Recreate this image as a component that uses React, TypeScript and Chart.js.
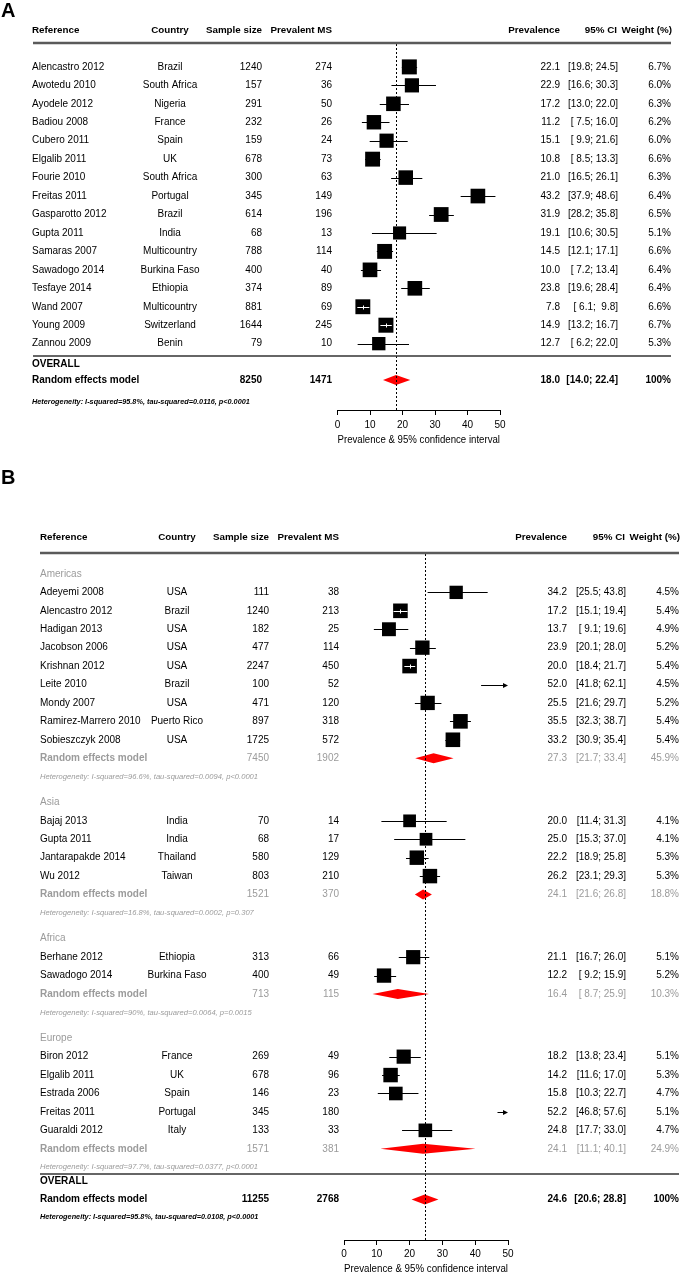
import React, { useEffect, useRef } from 'react';
import { Chart, registerables } from 'chart.js';

Chart.register(...registerables);

const FONT = '"Liberation Sans", Arial, Helvetica, sans-serif';
const GRAY = '#9b9b9b';
const RED = '#ff0000';

const X_MIN = 0;
const X_MAX = 50;
const X_STEP = 10;
const AXIS_TITLE = 'Prevalence & 95% confidence interval';
const HEADERS = ['Reference', 'Country', 'Sample size', 'Prevalent MS', 'Prevalence', '95% CI', 'Weight (%)'];
const RE_LABEL = 'Random effects model';
const OVERALL_LABEL = 'OVERALL';

// ---------- Panel A ----------
const A_REFERENCES = ['Alencastro 2012', 'Awotedu 2010', 'Ayodele 2012', 'Badiou 2008', 'Cubero 2011', 'Elgalib 2011', 'Fourie 2010', 'Freitas 2011', 'Gasparotto 2012', 'Gupta 2011', 'Samaras 2007', 'Sawadogo 2014', 'Tesfaye 2014', 'Wand 2007', 'Young 2009', 'Zannou 2009'];
const A_COUNTRIES = ['Brazil', 'South Africa', 'Nigeria', 'France', 'Spain', 'UK', 'South Africa', 'Portugal', 'Brazil', 'India', 'Multicountry', 'Burkina Faso', 'Ethiopia', 'Multicountry', 'Switzerland', 'Benin'];
const A_SAMPLE = [1240, 157, 291, 232, 159, 678, 300, 345, 614, 68, 788, 400, 374, 881, 1644, 79];
const A_PREVALENT = [274, 36, 50, 26, 24, 73, 63, 149, 196, 13, 114, 40, 89, 69, 245, 10];
const A_PREV = [22.1, 22.9, 17.2, 11.2, 15.1, 10.8, 21.0, 43.2, 31.9, 19.1, 14.5, 10.0, 23.8, 7.8, 14.9, 12.7];
const A_LOWER = [19.8, 16.6, 13.0, 7.5, 9.9, 8.5, 16.5, 37.9, 28.2, 10.6, 12.1, 7.2, 19.6, 6.1, 13.2, 6.2];
const A_UPPER = [24.5, 30.3, 22.0, 16.0, 21.6, 13.3, 26.1, 48.6, 35.8, 30.5, 17.1, 13.4, 28.4, 9.8, 16.7, 22.0];
const A_WEIGHT = [6.7, 6.0, 6.3, 6.2, 6.0, 6.6, 6.3, 6.4, 6.5, 5.1, 6.6, 6.4, 6.4, 6.6, 6.7, 5.3];
const A_POOLED_COUNTS = [8250, 1471];
const A_POOLED_EST = [18.0, 14.0, 22.4];
const A_POOLED_WEIGHT = 100;
const A_HETEROGENEITY = 'Heterogeneity: I-squared=95.8%, tau-squared=0.0116, p<0.0001';

// ---------- Panel B ----------
const B_GROUPS = ['Americas', 'Asia', 'Africa', 'Europe'];
const B_GROUP_OF = [0, 0, 0, 0, 0, 0, 0, 0, 0, 1, 1, 1, 1, 2, 2, 3, 3, 3, 3, 3];
const B_REFERENCES = ['Adeyemi 2008', 'Alencastro 2012', 'Hadigan 2013', 'Jacobson 2006', 'Krishnan 2012', 'Leite 2010', 'Mondy 2007', 'Ramirez-Marrero 2010', 'Sobieszczyk 2008', 'Bajaj 2013', 'Gupta 2011', 'Jantarapakde 2014', 'Wu 2012', 'Berhane 2012', 'Sawadogo 2014', 'Biron 2012', 'Elgalib 2011', 'Estrada 2006', 'Freitas 2011', 'Guaraldi 2012'];
const B_COUNTRIES = ['USA', 'Brazil', 'USA', 'USA', 'USA', 'Brazil', 'USA', 'Puerto Rico', 'USA', 'India', 'India', 'Thailand', 'Taiwan', 'Ethiopia', 'Burkina Faso', 'France', 'UK', 'Spain', 'Portugal', 'Italy'];
const B_SAMPLE = [111, 1240, 182, 477, 2247, 100, 471, 897, 1725, 70, 68, 580, 803, 313, 400, 269, 678, 146, 345, 133];
const B_PREVALENT = [38, 213, 25, 114, 450, 52, 120, 318, 572, 14, 17, 129, 210, 66, 49, 49, 96, 23, 180, 33];
const B_PREV = [34.2, 17.2, 13.7, 23.9, 20.0, 52.0, 25.5, 35.5, 33.2, 20.0, 25.0, 22.2, 26.2, 21.1, 12.2, 18.2, 14.2, 15.8, 52.2, 24.8];
const B_LOWER = [25.5, 15.1, 9.1, 20.1, 18.4, 41.8, 21.6, 32.3, 30.9, 11.4, 15.3, 18.9, 23.1, 16.7, 9.2, 13.8, 11.6, 10.3, 46.8, 17.7];
const B_UPPER = [43.8, 19.4, 19.6, 28.0, 21.7, 62.1, 29.7, 38.7, 35.4, 31.3, 37.0, 25.8, 29.3, 26.0, 15.9, 23.4, 17.0, 22.7, 57.6, 33.0];
const B_WEIGHT = [4.5, 5.4, 4.9, 5.2, 5.4, 4.5, 5.2, 5.4, 5.4, 4.1, 4.1, 5.3, 5.3, 5.1, 5.2, 5.1, 5.3, 4.7, 5.1, 4.7];
const B_SUB_SAMPLE = [7450, 1521, 713, 1571];
const B_SUB_PREVALENT = [1902, 370, 115, 381];
const B_SUB_PREV = [27.3, 24.1, 16.4, 24.1];
const B_SUB_LOWER = [21.7, 21.6, 8.7, 11.1];
const B_SUB_UPPER = [33.4, 26.8, 25.9, 40.1];
const B_SUB_WEIGHT = [45.9, 18.8, 10.3, 24.9];
const B_SUB_HETEROGENEITY = [
  'Heterogeneity: I-squared=96.6%, tau-squared=0.0094, p<0.0001',
  'Heterogeneity: I-squared=16.8%, tau-squared=0.0002, p=0.307',
  'Heterogeneity: I-squared=90%, tau-squared=0.0064, p=0.0015',
  'Heterogeneity: I-squared=97.7%, tau-squared=0.0377, p<0.0001',
];
const B_POOLED_COUNTS = [11255, 2768];
const B_POOLED_EST = [24.6, 20.6, 28.8];
const B_POOLED_WEIGHT = 100;
const B_HETEROGENEITY = 'Heterogeneity: I-squared=95.8%, tau-squared=0.0108, p<0.0001';

// ---------- formatting ----------
const fmt1 = (v: number) => v.toFixed(1);
const fmtCI = (lo: number, hi: number) => `[${fmt1(lo).padStart(4, ' ')}; ${fmt1(hi).padStart(4, ' ')}]`;
const fmtW = (w: number) => (w >= 100 ? '100%' : `${fmt1(w)}%`);

type Row = {
  kind: 'header' | 'heading' | 'study' | 'summary' | 'het' | 'overall' | 'rule';
  r: number;
  text?: string;
  country?: string;
  n?: number;
  events?: number;
  est?: number;
  lo?: number;
  hi?: number;
  w?: number;
  gray?: boolean;
};

type Cols = { ref: number; country: number; n: number; events: number; prev: number; ci: number; weight: number; ruleL: number; ruleR: number; x0: number; x50: number };

type Panel = {
  letter: string;
  letterBaseline: number;
  height: number;
  headerY: number;
  rowH: number;
  axisY: number;
  axisH: number;
  tickPad: number;
  titlePadBottom: number;
  headerRuleY: number;
  boxMax: number;
  maxW: number;
  refValue: number;
  cols: Cols;
  rows: Row[];
};

// row positions are in row units below the header line of text
function buildA(): Row[] {
  const rows: Row[] = [{ kind: 'header', r: 0 }];
  A_REFERENCES.forEach((ref, i) => {
    rows.push({ kind: 'study', r: 2 + i, text: ref, country: A_COUNTRIES[i], n: A_SAMPLE[i], events: A_PREVALENT[i], est: A_PREV[i], lo: A_LOWER[i], hi: A_UPPER[i], w: A_WEIGHT[i] });
  });
  const last = 1 + A_REFERENCES.length;
  rows.push({ kind: 'rule', r: last + 0.67 });
  rows.push({ kind: 'overall', r: last + 1.1 });
  rows.push({ kind: 'summary', r: last + 1.97, text: RE_LABEL, n: A_POOLED_COUNTS[0], events: A_POOLED_COUNTS[1], est: A_POOLED_EST[0], lo: A_POOLED_EST[1], hi: A_POOLED_EST[2], w: A_POOLED_WEIGHT, gray: false });
  rows.push({ kind: 'het', r: last + 3.16, text: A_HETEROGENEITY, gray: false });
  return rows;
}

const B_GROUP_GAP = 1.4;

function buildB(): Row[] {
  const rows: Row[] = [{ kind: 'header', r: 0 }];
  let r = 2;
  B_GROUPS.forEach((g, gi) => {
    rows.push({ kind: 'heading', r, text: g });
    r++;
    B_REFERENCES.forEach((ref, i) => {
      if (B_GROUP_OF[i] !== gi) return;
      rows.push({ kind: 'study', r, text: ref, country: B_COUNTRIES[i], n: B_SAMPLE[i], events: B_PREVALENT[i], est: B_PREV[i], lo: B_LOWER[i], hi: B_UPPER[i], w: B_WEIGHT[i] });
      r++;
    });
    rows.push({ kind: 'summary', r, text: RE_LABEL, n: B_SUB_SAMPLE[gi], events: B_SUB_PREVALENT[gi], est: B_SUB_PREV[gi], lo: B_SUB_LOWER[gi], hi: B_SUB_UPPER[gi], w: B_SUB_WEIGHT[gi], gray: true });
    r++;
    rows.push({ kind: 'het', r, text: B_SUB_HETEROGENEITY[gi], gray: true });
    if (gi < B_GROUPS.length - 1) r += B_GROUP_GAP;
  });
  rows.push({ kind: 'rule', r: r + 0.37 });
  rows.push({ kind: 'overall', r: r + 0.75 });
  rows.push({ kind: 'summary', r: r + 1.75, text: RE_LABEL, n: B_POOLED_COUNTS[0], events: B_POOLED_COUNTS[1], est: B_POOLED_EST[0], lo: B_POOLED_EST[1], hi: B_POOLED_EST[2], w: B_POOLED_WEIGHT, gray: false });
  rows.push({ kind: 'het', r: r + 2.72, text: B_HETEROGENEITY, gray: false });
  return rows;
}

const PANEL_A_H = 446;
const PANEL_A_AXIS = 410;

const PANEL_A: Panel = {
  letter: 'A',
  letterBaseline: 17,
  height: PANEL_A_H,
  headerY: 30,
  rowH: 18.45,
  axisY: PANEL_A_AXIS,
  axisH: PANEL_A_H - PANEL_A_AXIS,
  tickPad: 4,
  titlePadBottom: 0,
  headerRuleY: 43,
  boxMax: 15,
  maxW: Math.max(...A_WEIGHT),
  refValue: A_POOLED_EST[0],
  cols: { ref: 32, country: 170, n: 262, events: 332, prev: 560, ci: 618, weight: 671, ruleL: 33, ruleR: 671, x0: 337.5, x50: 500 },
  rows: buildA(),
};

const PANEL_B_TOP = PANEL_A_H;
const PANEL_B_H = 1275 - PANEL_A_H;
const PANEL_B_AXIS = 1239;

const PANEL_B: Panel = {
  letter: 'B',
  letterBaseline: 484 - PANEL_B_TOP,
  height: PANEL_B_H,
  headerY: 537 - PANEL_B_TOP,
  rowH: 18.4,
  axisY: PANEL_B_AXIS - PANEL_B_TOP,
  axisH: 1274 - PANEL_B_AXIS,
  tickPad: 3,
  titlePadBottom: 0,
  headerRuleY: 553 - PANEL_B_TOP,
  boxMax: 14.6,
  maxW: Math.max(...B_WEIGHT),
  refValue: B_POOLED_EST[0],
  cols: { ref: 40, country: 177, n: 269, events: 339, prev: 567, ci: 626, weight: 679, ruleL: 40, ruleR: 679, x0: 344, x50: 508 },
  rows: buildB(),
};

const boxSide = (p: Panel, w: number) => p.boxMax * Math.sqrt(w / p.maxW);

function makePlugin(p: Panel) {
  const font = (style: string, size: number) => `${style} ${size}px ${FONT}`.trim();
  return {
    id: 'forest' + p.letter,
    beforeDatasetsDraw(chart: any) {
      const { ctx } = chart;
      const xs = chart.scales.x;
      const ys = chart.scales.y;
      ctx.save();
      ctx.strokeStyle = '#000';
      ctx.fillStyle = '#000';
      ctx.lineWidth = 1;
      p.rows.forEach((row) => {
        if (row.kind !== 'study') return;
        const y = Math.round(ys.getPixelForValue(row.r)) + 0.5;
        const lo = Math.max(row.lo!, X_MIN);
        const hi = Math.min(row.hi!, X_MAX);
        const xl = xs.getPixelForValue(lo);
        const xh = xs.getPixelForValue(hi);
        ctx.beginPath();
        ctx.moveTo(xl, y);
        ctx.lineTo(row.hi! > X_MAX ? xh - 3 : xh, y);
        ctx.stroke();
        if (row.hi! > X_MAX) {
          ctx.beginPath();
          ctx.moveTo(xh, y);
          ctx.lineTo(xh - 5, y - 2.5);
          ctx.lineTo(xh - 5, y + 2.5);
          ctx.closePath();
          ctx.fill();
        }
      });
      ctx.restore();
    },
    afterDatasetsDraw(chart: any) {
      const { ctx } = chart;
      const xs = chart.scales.x;
      const ys = chart.scales.y;
      ctx.save();
      p.rows.forEach((row) => {
        if (row.kind !== 'study' || row.est! > X_MAX) return;
        const side = boxSide(p, row.w!);
        const xe = xs.getPixelForValue(row.est!);
        const xl = xs.getPixelForValue(row.lo!);
        const xh = xs.getPixelForValue(row.hi!);
        if (xl >= xe - side / 2 && xh <= xe + side / 2) {
          const y = Math.round(ys.getPixelForValue(row.r)) + 0.5;
          ctx.strokeStyle = '#fff';
          ctx.lineWidth = 1;
          ctx.beginPath();
          ctx.moveTo(xl, y);
          ctx.lineTo(xh, y);
          ctx.moveTo(Math.round(xe) + 0.5, y - 2);
          ctx.lineTo(Math.round(xe) + 0.5, y + 2);
          ctx.stroke();
        }
      });
      p.rows.forEach((row) => {
        if (row.kind !== 'summary') return;
        const y = ys.getPixelForValue(row.r);
        const xe = xs.getPixelForValue(row.est!);
        const xl = xs.getPixelForValue(row.lo!);
        const xh = xs.getPixelForValue(row.hi!);
        ctx.fillStyle = RED;
        ctx.beginPath();
        ctx.moveTo(xl, y);
        ctx.lineTo(xe, y - 5);
        ctx.lineTo(xh, y);
        ctx.lineTo(xe, y + 5);
        ctx.closePath();
        ctx.fill();
      });
      const xr = Math.round(xs.getPixelForValue(p.refValue)) + 0.5;
      ctx.strokeStyle = '#000';
      ctx.lineWidth = 1;
      ctx.setLineDash([2, 2]);
      ctx.beginPath();
      ctx.moveTo(xr, p.headerRuleY + 1);
      ctx.lineTo(xr, chart.chartArea.bottom);
      ctx.stroke();
      ctx.setLineDash([]);
      ctx.restore();
    },
    afterDraw(chart: any) {
      const { ctx } = chart;
      const ys = chart.scales.y;
      const c = p.cols;
      ctx.save();
      const txt = (s: string, x: number, y: number, align: CanvasTextAlign, f: string, color: string) => {
        ctx.font = f;
        ctx.fillStyle = color;
        ctx.textAlign = align;
        ctx.fillText(s, x, y);
      };
      ctx.textBaseline = 'alphabetic';
      txt(p.letter, 1, p.letterBaseline, 'left', font('bold', 20), '#000');
      ctx.textBaseline = 'middle';
      ctx.strokeStyle = '#5a5a5a';
      ctx.lineWidth = 2.5;
      ctx.beginPath();
      ctx.moveTo(c.ruleL, p.headerRuleY);
      ctx.lineTo(c.ruleR, p.headerRuleY);
      ctx.stroke();
      p.rows.forEach((row) => {
        const y = ys.getPixelForValue(row.r);
        const normal = font('', 10);
        const bold = font('bold', 10);
        const hb = font('bold', 9.8);
        if (row.kind === 'header') {
          txt(HEADERS[0], c.ref, y, 'left', hb, '#000');
          txt(HEADERS[1], c.country, y, 'center', hb, '#000');
          txt(HEADERS[2], c.n, y, 'right', hb, '#000');
          txt(HEADERS[3], c.events, y, 'right', hb, '#000');
          txt(HEADERS[4], c.prev, y, 'right', hb, '#000');
          txt(HEADERS[5], c.ci - 1, y, 'right', hb, '#000');
          txt(HEADERS[6], c.weight + 1, y, 'right', hb, '#000');
        } else if (row.kind === 'heading') {
          txt(row.text!, c.ref, y, 'left', normal, GRAY);
        } else if (row.kind === 'study') {
          txt(row.text!, c.ref, y, 'left', normal, '#000');
          txt(row.country!, c.country, y, 'center', normal, '#000');
          txt(String(row.n), c.n, y, 'right', normal, '#000');
          txt(String(row.events), c.events, y, 'right', normal, '#000');
          txt(fmt1(row.est!), c.prev, y, 'right', normal, '#000');
          txt(fmtCI(row.lo!, row.hi!), c.ci, y, 'right', normal, '#000');
          txt(fmtW(row.w!), c.weight, y, 'right', normal, '#000');
        } else if (row.kind === 'summary') {
          const col = row.gray ? GRAY : '#000';
          const nf = row.gray ? normal : bold;
          txt(row.text!, c.ref, y, 'left', bold, col);
          txt(String(row.n), c.n, y, 'right', nf, col);
          txt(String(row.events), c.events, y, 'right', nf, col);
          txt(fmt1(row.est!), c.prev, y, 'right', nf, col);
          txt(fmtCI(row.lo!, row.hi!), c.ci, y, 'right', nf, col);
          txt(fmtW(row.w!), c.weight, y, 'right', nf, col);
        } else if (row.kind === 'het') {
          txt(row.text!, c.ref, y, 'left', row.gray ? font('italic', 7.6) : font('italic bold', 7.3), row.gray ? GRAY : '#000');
        } else if (row.kind === 'overall') {
          txt(OVERALL_LABEL, c.ref, y, 'left', bold, '#000');
        } else if (row.kind === 'rule') {
          ctx.strokeStyle = '#333';
          ctx.lineWidth = 1.5;
          ctx.beginPath();
          ctx.moveTo(c.ruleL, Math.round(y));
          ctx.lineTo(c.ruleR, Math.round(y));
          ctx.stroke();
        }
      });
      ctx.restore();
    },
  };
}

function ForestPanel({ panel }: { panel: Panel }) {
  const ref = useRef<HTMLCanvasElement | null>(null);
  useEffect(() => {
    if (!ref.current) return;
    const p = panel;
    const studies = p.rows.filter((r) => r.kind === 'study' && r.est! <= X_MAX && r.est! >= X_MIN);
    const yMin = -p.headerY / p.rowH;
    const yMax = yMin + p.axisY / p.rowH;
    const chart = new Chart(ref.current, {
      type: 'scatter',
      data: {
        datasets: [
          {
            data: studies.map((s) => ({ x: s.est!, y: s.r })),
            pointStyle: 'rect',
            pointRadius: studies.map((s) => boxSide(p, s.w!) / Math.SQRT2),
            backgroundColor: '#000',
            borderWidth: 0,
            clip: false as any,
          },
        ],
      },
      options: {
        responsive: false,
        animation: false,
        devicePixelRatio: 1,
        events: [],
        layout: { autoPadding: false, padding: { left: p.cols.x0, right: 680 - p.cols.x50, top: 0, bottom: 0 } },
        plugins: { legend: { display: false }, tooltip: { enabled: false }, title: { display: false } },
        scales: {
          x: {
            type: 'linear',
            position: 'bottom',
            min: X_MIN,
            max: X_MAX,
            ticks: { stepSize: X_STEP, color: '#000', font: { family: FONT, size: 10 }, padding: p.tickPad, maxRotation: 0 },
            grid: { display: true, drawOnChartArea: false, drawTicks: true, tickLength: 5, color: '#000', lineWidth: 1 },
            border: { display: true, color: '#000', width: 1 },
            title: { display: true, text: AXIS_TITLE, color: '#000', font: { family: FONT, size: 10 }, padding: { top: 0, bottom: p.titlePadBottom } },
            afterFit: (scale: any) => {
              scale.height = p.axisH;
            },
          },
          y: { type: 'linear', display: false, reverse: true, min: yMin, max: yMax },
        },
      },
      plugins: [makePlugin(p)],
    } as any);
    return () => chart.destroy();
  }, [panel]);
  return <canvas ref={ref} width={680} height={panel.height} style={{ display: 'block', width: 680, height: panel.height }} />;
}

export default function App() {
  return (
    <div style={{ position: 'absolute', left: 0, top: 0, width: 680, height: 1275, background: '#fff' }}>
      <ForestPanel panel={PANEL_A} />
      <ForestPanel panel={PANEL_B} />
    </div>
  );
}
